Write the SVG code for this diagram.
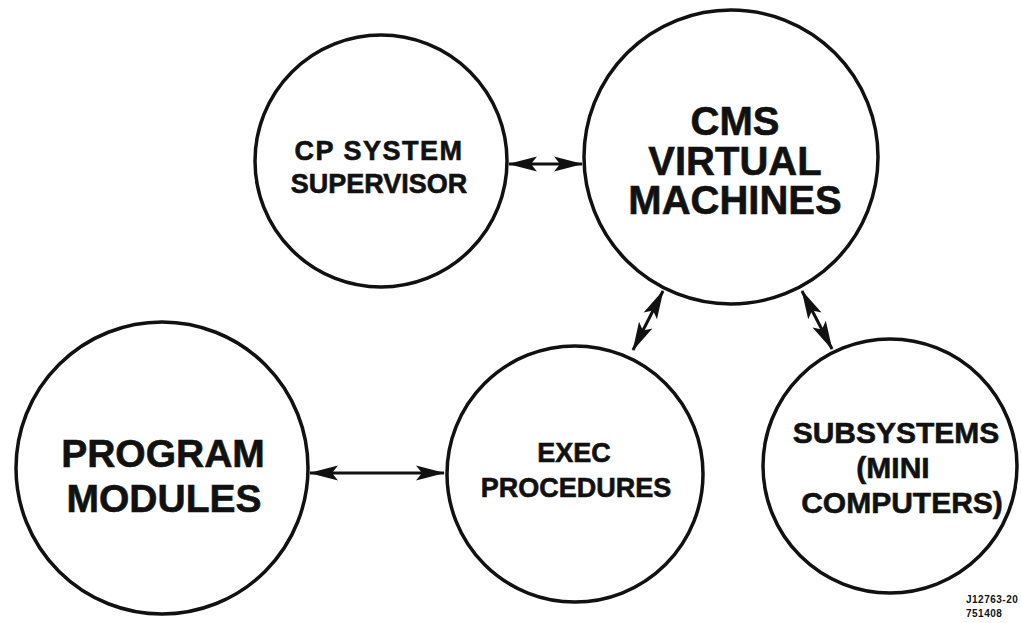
<svg xmlns="http://www.w3.org/2000/svg" width="1021" height="623" viewBox="0 0 1021 623">
<style>
.node circle{fill:#fff;stroke:#111;stroke-width:3.5}
.lbl{font-family:"Liberation Sans",Arial,sans-serif;font-weight:bold;fill:#111;stroke:#111;stroke-width:0.6;text-anchor:middle}
.conn line{stroke:#111;stroke-width:3;marker-start:url(#ah);marker-end:url(#ah)}
.ref{font-family:"Liberation Sans",Arial,sans-serif;font-weight:bold;font-size:10px;fill:#111}
</style>
<defs>
<marker id="ah" viewBox="-30 -9 32 18" refX="0" refY="0" markerWidth="32" markerHeight="18" markerUnits="userSpaceOnUse" orient="auto-start-reverse">
<path d="M1,0 L-28,-7.5 L-22,0 L-28,7.5 Z" fill="#111"/>
</marker>
</defs>
<rect width="1021" height="623" fill="#fff"/>
<g id="connectors" class="conn">
<line x1="509" y1="164" x2="582" y2="164"/>
<line x1="310" y1="473" x2="444" y2="473"/>
<line x1="633" y1="350" x2="663" y2="291"/>
<line x1="802" y1="291" x2="832" y2="349"/>
</g>
<g id="cp" class="node">
<circle cx="381" cy="161" r="126"/>
<text class="lbl" font-size="27" letter-spacing="1.5" x="379" y="160">CP SYSTEM</text>
<text class="lbl" font-size="27" x="379" y="193">SUPERVISOR</text>
</g>
<g id="cms" class="node">
<circle cx="731" cy="157" r="147"/>
<text class="lbl" font-size="40" x="735" y="135">CMS</text>
<text class="lbl" font-size="40" x="735" y="175">VIRTUAL</text>
<text class="lbl" font-size="40" x="735" y="214">MACHINES</text>
</g>
<g id="program" class="node">
<circle cx="162" cy="468" r="146"/>
<text class="lbl" font-size="39" x="163" y="467">PROGRAM</text>
<text class="lbl" font-size="39" x="164" y="512">MODULES</text>
</g>
<g id="exec" class="node">
<circle cx="575" cy="474" r="128"/>
<text class="lbl" font-size="27" x="574" y="462">EXEC</text>
<text class="lbl" font-size="27" x="576" y="497">PROCEDURES</text>
</g>
<g id="subsystems" class="node">
<circle cx="890" cy="466" r="127"/>
<text class="lbl" font-size="30" x="896" y="443">SUBSYSTEMS</text>
<text class="lbl" font-size="30" x="893" y="478">(MINI</text>
<text class="lbl" font-size="30" x="902" y="513">COMPUTERS)</text>
</g>
<text class="ref" x="966" y="603" letter-spacing="0.5">J12763-20</text>
<text class="ref" x="966" y="617" letter-spacing="0.5">751408</text>
</svg>
